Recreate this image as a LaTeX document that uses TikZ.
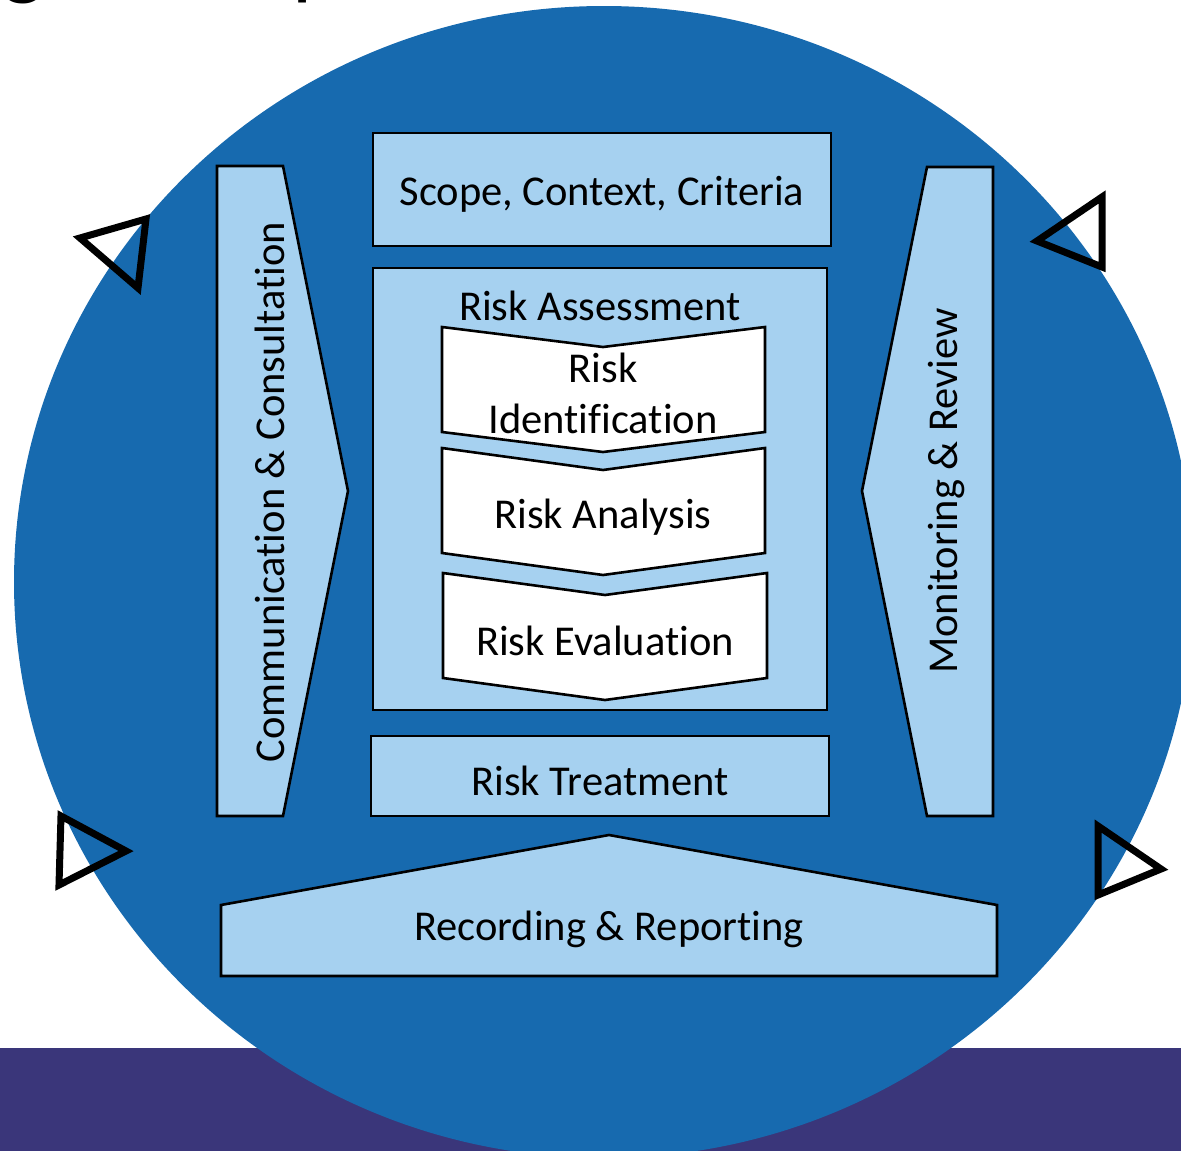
\documentclass[tikz,border=0pt]{standalone}
\usepackage{fontspec}
\setmainfont[Ligatures={NoCommon}]{Carlito}
\definecolor{circblue}{RGB}{23,106,175}
\definecolor{bandpurple}{RGB}{58,54,122}
\definecolor{lightfill}{RGB}{166,209,240}
\tikzset{
  panel/.style={fill=lightfill, draw=black, line width=2.6pt, line join=miter},
  chev/.style={fill=white, draw=black, line width=2.6pt, line join=miter},
  tri/.style={draw=black, line width=7pt, line join=miter, fill=none},
  lbl/.style={font=\fontsize{42.5}{51}\selectfont, text=black, inner sep=0pt, align=center},
  ttl/.style={font=\fontsize{90}{90}\selectfont, text=black, inner sep=0pt, anchor=base west}
}
\begin{document}
\begin{tikzpicture}[x=1pt,y=-1pt]
\useasboundingbox (0,0) rectangle (1181,1151);
\begin{scope}
\clip (0,0) rectangle (1181,1151);
% purple band
\fill[bandpurple] (0,1048) rectangle (1181,1151);
% big blue disc
\fill[circblue] (604,582) ellipse [x radius=590, y radius=576];
% cut-off title letters
\node[ttl] (tg) at (2,-11) {g};
\node[ttl] (tp) at (292,-11) {p};
\end{scope}

% Communication & Consultation
\draw[panel] (217,166) -- (283,166) -- (348,491) -- (283,816) -- (217,816) -- cycle;
\node[lbl, rotate=90] (comm) at (270,492) {Communication \& Consultation};

% Monitoring & Review
\draw[panel] (993,167) -- (927,167) -- (862,491) -- (927,816) -- (993,816) -- cycle;
\node[lbl, rotate=90] (mon) at (947,491) {Monitoring \& Review};

% Scope box
\draw[panel] (373,133) rectangle (831,246);
\node[lbl] (scope) at (602,194) {Scope, Context, Criteria};

% Risk Assessment box
\draw[panel] (373,268) rectangle (827,710);
\node[lbl] (assess) at (600,306) {Risk Assessment};

% chevrons
\draw[chev] (442,327) -- (603,347) -- (765,327) -- (765,432) -- (603,452) -- (442,432) -- cycle;
\node[lbl] (ident) at (603,393) {Risk\\Identification};
\draw[chev] (442,448) -- (603,470) -- (765,448) -- (765,553) -- (603,575) -- (442,553) -- cycle;
\node[lbl] (anal) at (603,517) {Risk Analysis};
\draw[chev] (443,573) -- (605,595) -- (767,573) -- (767,678) -- (605,700) -- (443,678) -- cycle;
\node[lbl] (eval) at (605,641) {Risk Evaluation};

% Risk Treatment
\draw[panel] (371,736) rectangle (829,816);
\node[lbl] (treat) at (600,781) {Risk Treatment};

% Recording & Reporting
\draw[panel] (221,905) -- (609,835) -- (997,905) -- (997,976) -- (221,976) -- cycle;
\node[lbl] (rec) at (609,929) {Recording \& Reporting};

% triangles
\draw[tri] (80,238) -- (146,219) -- (138,288) -- cycle;
\draw[tri] (1037,241) -- (1102,197) -- (1102,267) -- cycle;
\draw[tri] (61,816) -- (126,851) -- (59,885) -- cycle;
\draw[tri] (1098,826) -- (1161,869) -- (1098,895) -- cycle;
\end{tikzpicture}
\end{document}
